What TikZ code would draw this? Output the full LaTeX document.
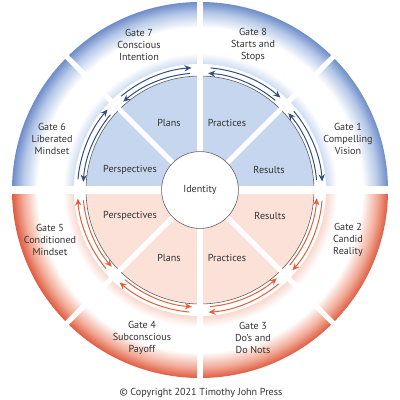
\documentclass[tikz,border=0pt]{standalone}
\usepackage{fontspec}
\setmainfont{PT Sans}
\usepackage{tikz}
\usetikzlibrary{arrows.meta}
\definecolor{DiscBlue}{RGB}{197,214,238}
\definecolor{DiscRed}{RGB}{252,225,216}
\definecolor{RingBlueIn}{RGB}{205,219,241}
\definecolor{RingBlueMid}{RGB}{180,200,232}
\definecolor{RingBlueOut}{RGB}{110,140,200}
\definecolor{RingRedIn}{RGB}{250,214,204}
\definecolor{RingRedMid}{RGB}{242,170,150}
\definecolor{RingRedOut}{RGB}{222,92,66}
\definecolor{ArrowBlue}{RGB}{50,78,128}
\definecolor{ArrowRed}{RGB}{228,95,60}
\definecolor{OutlineGray}{RGB}{90,90,90}
\definecolor{TextGray}{RGB}{50,50,50}
\pgfdeclareradialshading{BlueRing}{\pgfpoint{0bp}{0bp}}{color(0bp)=(white); color(16.7bp)=(RingBlueIn); color(18.2bp)=(white); color(21.6bp)=(white); color(23.6bp)=(RingBlueMid); color(25bp)=(RingBlueOut); color(50bp)=(RingBlueOut)}
\pgfdeclareradialshading{RedRing}{\pgfpoint{0bp}{0bp}}{color(0bp)=(white); color(16.7bp)=(RingRedIn); color(18.2bp)=(white); color(21.6bp)=(white); color(23.6bp)=(RingRedMid); color(25bp)=(RingRedOut); color(50bp)=(RingRedOut)}

\begin{document}
\begin{tikzpicture}[x=0.025cm,y=0.025cm,>={Stealth[length=5pt,width=4.4pt]},
  gatetext/.style={text=TextGray,font=\fontsize{7.2}{8.6}\selectfont,align=center,inner sep=0pt},
  sectortext/.style={text=TextGray,font=\fontsize{7.2}{8.6}\selectfont,inner sep=0pt},
  spoke/.style={white,line width=3.6pt}]
\useasboundingbox (-200,-210) rectangle (200,190);
% outer ring
\begin{scope}
  \clip (-200,0) rectangle (200,190);
  \shade[shading=BlueRing] (0,0) circle (188);
\end{scope}
\begin{scope}
  \clip (-200,0) rectangle (200,-200);
  \shade[shading=RedRing] (0,0) circle (188);
\end{scope}
\fill[white] (0,0) circle (126);
% inner discs
\fill[DiscBlue] (114,0) arc (0:180:114) -- cycle;
\fill[DiscRed] (-114,0) arc (180:360:114) -- cycle;
\draw[OutlineGray,line width=0.4pt] (0,0) circle (114);
% spokes
\foreach \a in {45,90,135,225,270,315}
  \draw[spoke] (0,0) -- (\a:192);
\draw[white,line width=5pt] (-192,0) -- (192,0);
\node[circle,draw=OutlineGray,fill=white,line width=0.4pt,minimum size=1.92cm,sectortext] (identity) at (0,0) {Identity};
% arrows
\foreach \a/\col in {0/ArrowBlue,45/ArrowBlue,90/ArrowBlue,135/ArrowBlue,180/ArrowRed,225/ArrowRed,270/ArrowRed,315/ArrowRed}{
  \draw[->,\col,line width=0.7pt] (\a+40:122.5) arc (\a+40:\a+4:122.5);
  \draw[->,\col,line width=0.7pt] (\a+5:117) arc (\a+5:\a+41:117);
}
% gates
\node[gatetext] (gate1) at (148,51) {Gate 1\\Compelling\\Vision};
\node[gatetext] (gate2) at (148,-50) {Gate 2\\Candid\\Reality};
\node[gatetext] (gate3) at (53,-148) {Gate 3\\Do's and\\Do Nots};
\node[gatetext] (gate4) at (-58,-148) {Gate 4\\Subconscious\\Payoff};
\node[gatetext] (gate5) at (-150,-50) {Gate 5\\Conditioned\\Mindset};
\node[gatetext] (gate6) at (-148,51) {Gate 6\\Liberated\\Mindset};
\node[gatetext] (gate7) at (-61,145) {Gate 7\\Conscious\\Intention};
\node[gatetext] (gate8) at (53,145) {Gate 8\\Starts and\\Stops};
% sectors
\node[sectortext] (plansB) at (-31,67) {Plans};
\node[sectortext] (practicesB) at (27,67) {Practices};
\node[sectortext] (perspectivesB) at (-70,20) {Perspectives};
\node[sectortext] (resultsB) at (69,20) {Results};
\node[sectortext] (perspectivesR) at (-70,-26) {Perspectives};
\node[sectortext] (resultsR) at (70,-26) {Results};
\node[sectortext] (plansR) at (-31,-68) {Plans};
\node[sectortext] (practicesR) at (27,-68) {Practices};
\node[sectortext] (copyright) at (1,-203) {© Copyright 2021 Timothy John Press};
\end{tikzpicture}
\end{document}
